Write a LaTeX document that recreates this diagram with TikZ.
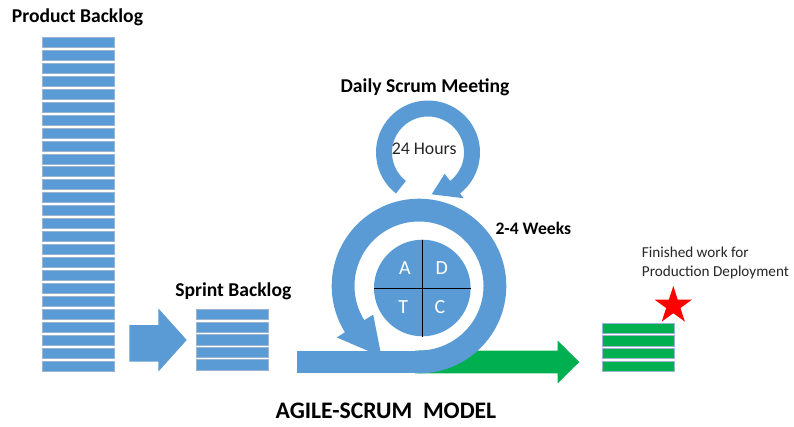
\documentclass[tikz,border=0pt]{standalone}
\usepackage{fontspec}
\setmainfont{Carlito}
\usetikzlibrary{shapes.geometric,calc}
\definecolor{oblue}{HTML}{5B9BD5}
\definecolor{ogreen}{HTML}{00B050}
\definecolor{barline}{HTML}{9BB4D2}
\begin{document}
\begin{tikzpicture}[x=1pt,y=1pt,
  bar/.style={rectangle, fill=oblue, draw=barline, line width=0.6pt, minimum width=72pt, minimum height=10pt, inner sep=0pt},
  gbar/.style={bar, fill=ogreen, minimum height=10.3pt},
  sbar/.style={bar, minimum width=71.6pt, minimum height=10.3pt},
  boldlabel/.style={font=\fontsize{19.6}{22}\selectfont\bfseries, inner sep=0pt},
  plainlabel/.style={font=\fontsize{15.2}{18}\selectfont, inner sep=0pt, text=black!85},
  letter/.style={font=\fontsize{20}{22}\selectfont, text=white, inner sep=0pt}]
\useasboundingbox (0,0) rectangle (794,426);

% product backlog stack
\foreach \i in {0,...,25}{
  \node[bar] (pb\i) at (78.3, {383.7-12.95*\i}) {};
}
\node[boldlabel] (pbt) at (77.5,409) {Product Backlog};

% sprint arrow
\fill[oblue] (129.3,64.5) -- (158.3,64.5) -- (158.3,54.3) -- (186.7,86) -- (158.3,117.7) -- (158.3,101) -- (129.3,101) -- cycle;

% sprint backlog
\foreach \i in {0,...,4}{
  \node[sbar] (sb\i) at (232.5, {111.55-12.6*\i}) {};
}
\node[boldlabel] (sbt) at (233.3,134.3) {Sprint Backlog};

% green arrow
\fill[ogreen] (415,52.7) -- (557.7,52.7) -- (557.7,42.7) -- (579.3,64) -- (557.7,85.3) -- (557.7,75.5) -- (415,75.5) -- cycle;

% blue shaft
\fill[oblue] (296.7,52.7) rectangle (420,75.5);

% big ring
\coordinate (bc) at (419,140);
\fill[oblue] ([shift={(-90:87.3)}]bc) arc[start angle=-90, end angle=212, radius=87.3]
  -- ([shift={(212:97)}]bc) -- ([shift={(242:80)}]bc) -- ([shift={(212:54)}]bc)
  -- ([shift={(212:64.5)}]bc) arc[start angle=212, end angle=-90, radius=64.5] -- cycle;

% small ring
\coordinate (sc) at (428,273.5);
\fill[oblue] ([shift={(232:52)}]sc) arc[start angle=232, end angle=-52, radius=52]
  -- ([shift={(-52:58)}]sc) -- ([shift={(-85:42)}]sc) -- ([shift={(-52:27)}]sc)
  -- ([shift={(-52:36)}]sc) arc[start angle=-52, end angle=232, radius=36] -- cycle;
\node[font=\fontsize{17.8}{20}\selectfont, text=black!85, inner sep=0pt] (hrs) at (424.2,277) {24 Hours};
\node[boldlabel] (dsm) at (425,338.7) {Daily Scrum Meeting};

% ADTC circle
\node[circle, fill=oblue, minimum size=96.6pt, inner sep=0pt] (adtc) at (422.3,138) {};
\draw[line width=0.8pt] (adtc.north) -- (adtc.south);
\draw[line width=0.8pt] (adtc.west) -- (adtc.east);
\node[letter] (la) at (405,157.7) {A};
\node[letter] (ld) at (441.7,157.7) {D};
\node[letter] (lt) at (403.3,119.3) {T};
\node[letter] (lc) at (440,119.3) {C};

\node[boldlabel, font=\fontsize{17.6}{20}\selectfont\bfseries] (wks) at (533.3,198) {2-4 Weeks};

% finished stack
\foreach \i in {0,...,3}{
  \node[gbar] (gb\i) at (638.3, {98-12.8*\i}) {};
}
\node[star, star points=5, star point ratio=2.618, fill=red, minimum size=39.4pt, inner sep=0pt] (st) at (673.3,120.3) {};
\node[plainlabel, anchor=west] (fw1) at (641.7,174) {Finished work for};
\node[plainlabel, anchor=west] (fw2) at (641.7,154) {Production Deployment};

\node[boldlabel, font=\fontsize{23.7}{26}\selectfont\bfseries] (title) at (386,15) {AGILE-SCRUM\ \ MODEL};
\end{tikzpicture}
\end{document}
